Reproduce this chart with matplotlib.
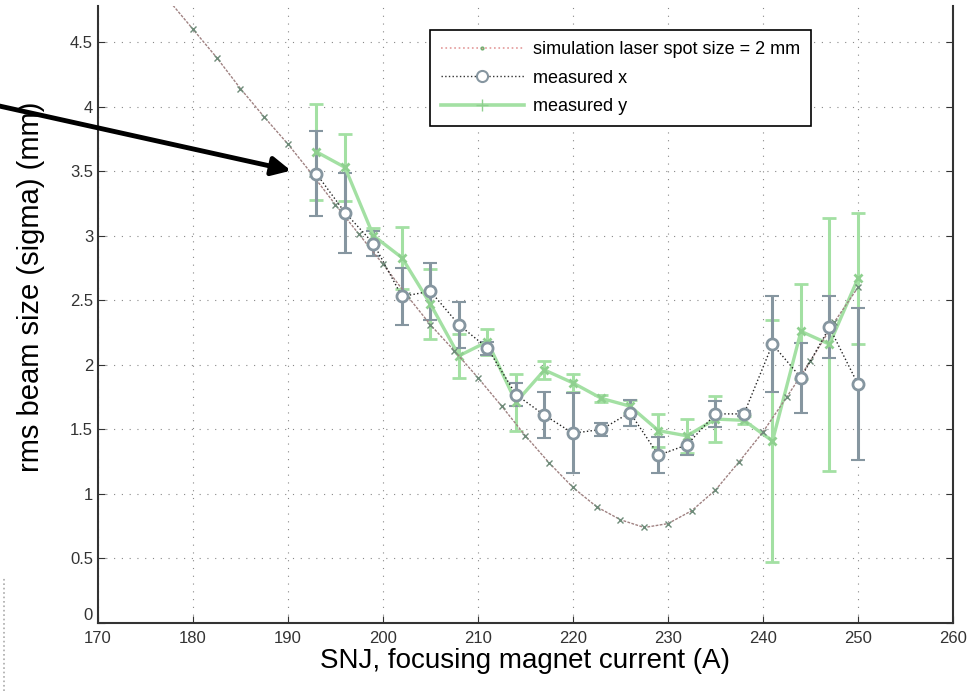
import numpy as np
import matplotlib
matplotlib.use("Agg")
import matplotlib.pyplot as plt
from matplotlib.lines import Line2D

# simulation, laser spot size = 2 mm
sim_current = [175, 177.5, 180, 182.5, 185, 187.5, 190, 192.5, 195, 197.5, 200,
               202.5, 205, 207.5, 210, 212.5, 215, 217.5, 220, 222.5, 225,
               227.5, 230, 232.5, 235, 237.5, 240, 242.5, 245, 247.5, 250]
sim_sigma = [5.05, 4.82, 4.60, 4.38, 4.14, 3.92, 3.71, 3.48, 3.24, 3.01, 2.78,
             2.54, 2.31, 2.11, 1.90, 1.68, 1.45, 1.24, 1.05, 0.90, 0.80,
             0.74, 0.77, 0.87, 1.03, 1.25, 1.48, 1.75, 2.03, 2.33, 2.60]

# measured points
meas_current = [193, 196, 199, 202, 205, 208, 211, 214, 217, 220,
                223, 226, 229, 232, 235, 238, 241, 244, 247, 250]
meas_x = [3.48, 3.18, 2.94, 2.53, 2.57, 2.31, 2.13, 1.77, 1.61, 1.47,
          1.50, 1.63, 1.30, 1.38, 1.62, 1.62, 2.16, 1.90, 2.29, 1.85]
meas_x_err = [0.33, 0.31, 0.10, 0.22, 0.22, 0.18, 0.05, 0.09, 0.18, 0.31,
              0.05, 0.10, 0.14, 0.08, 0.10, 0.02, 0.37, 0.27, 0.24, 0.59]
meas_y = [3.65, 3.53, 3.00, 2.83, 2.47, 2.07, 2.18, 1.71, 1.96, 1.86,
          1.74, 1.68, 1.49, 1.45, 1.58, 1.57, 1.41, 2.26, 2.16, 2.67]
meas_y_err = [0.37, 0.26, 0.06, 0.24, 0.27, 0.17, 0.10, 0.22, 0.07, 0.07,
              0.03, 0.05, 0.13, 0.13, 0.18, 0.03, 0.94, 0.37, 0.98, 0.51]

plt.rcParams['font.family'] = ['Liberation Sans', 'DejaVu Sans']

fig = plt.figure(figsize=(9.74, 6.91), dpi=100)
ax = fig.add_axes([0.1006, 0.0984, 0.8778, 0.8929])

gray = '#8696a0'
green = '#a3e0a3'

# error bars
ax.errorbar(meas_current, meas_y, yerr=meas_y_err, fmt='none', ecolor=green,
            elinewidth=2.2, capsize=5, capthick=2, zorder=2)
ax.errorbar(meas_current, meas_x, yerr=meas_x_err, fmt='none', ecolor=gray,
            elinewidth=2.2, capsize=5, capthick=1.5, zorder=3)

# lines
ax.plot(sim_current, sim_sigma, color='#a08282', linestyle=(0, (2, 1)), linewidth=1.0,
        marker='x', markersize=4, markeredgecolor='#6f8c7a', zorder=4)
ax.plot(meas_current, meas_y, color=green, linewidth=2.4, marker='x', markersize=6,
        markeredgewidth=2, markeredgecolor='#8fd08f', zorder=3.5)
ax.plot(meas_current, meas_x, color='#222222', linestyle=':', linewidth=1.0,
        marker='o', markersize=8, markerfacecolor='white', markeredgecolor=gray,
        markeredgewidth=2, zorder=5)

ax.set_xlim(170, 260)
ax.set_ylim(0, 4.78)
ax.set_xticks(np.arange(170, 261, 10))
ax.set_yticks(np.arange(0, 4.6, 0.5))
ax.set_yticklabels(['0', '0.5', '1', '1.5', '2', '2.5', '3', '3.5', '4', '4.5'])
ax.get_yticklabels()[0].set_verticalalignment('bottom')
ax.grid(True, linestyle=(0, (1, 6)), color='#888888', linewidth=0.8)
ax.tick_params(direction='in', length=5, labelsize=12, right=True, top=False,
               colors='#333333')
ax.tick_params(axis='x', pad=6)
ax.spines['top'].set_visible(False)
for s in ['left', 'bottom', 'right']:
    ax.spines[s].set_linewidth(1.5)
    ax.spines[s].set_color('#333333')

ax.set_xlabel('SNJ, focusing magnet current (A)', fontsize=20)
ax.set_ylabel('rms beam size (sigma) (mm)', fontsize=21)
ax.xaxis.set_label_coords(0.5, -0.04)
ax.yaxis.set_label_coords(-0.062, 0.545)

handles = [
    Line2D([], [], color='#e39a9a', linestyle=':', linewidth=1.2, marker='.',
           markersize=4, markeredgecolor='#6fb06f'),
    Line2D([], [], color='#333333', linestyle=':', linewidth=1.0, marker='o',
           markersize=8, markerfacecolor='white', markeredgecolor=gray, markeredgewidth=1.5),
    Line2D([], [], color=green, linewidth=2.6, marker='+', markersize=8,
           markeredgecolor='#8fd08f'),
]
leg = ax.legend(handles, ['simulation laser spot size = 2 mm', 'measured x', 'measured y'],
                loc='upper left', bbox_to_anchor=(0.388, 0.961), borderaxespad=0,
                fontsize=13, handlelength=4.6, handletextpad=0.5, fancybox=False,
                framealpha=1, edgecolor='black', borderpad=0.6, labelspacing=0.65)
leg.get_frame().set_linewidth(1.2)

# arrow pointing at the curve
ax.annotate('', xy=(190.6, 3.5), xytext=(-0.01, 1 - 104 / 691),
            textcoords='figure fraction',
            arrowprops=dict(arrowstyle='-|>', lw=3.5, color='black', mutation_scale=28),
            annotation_clip=False, zorder=6)

# dotted line at left edge
fig.add_artist(Line2D([0.004, 0.004], [0, 1 - 578 / 691], transform=fig.transFigure,
                      color='#aaaaaa', linestyle=':', linewidth=1.2))

fig.savefig('out.png', dpi=100)
